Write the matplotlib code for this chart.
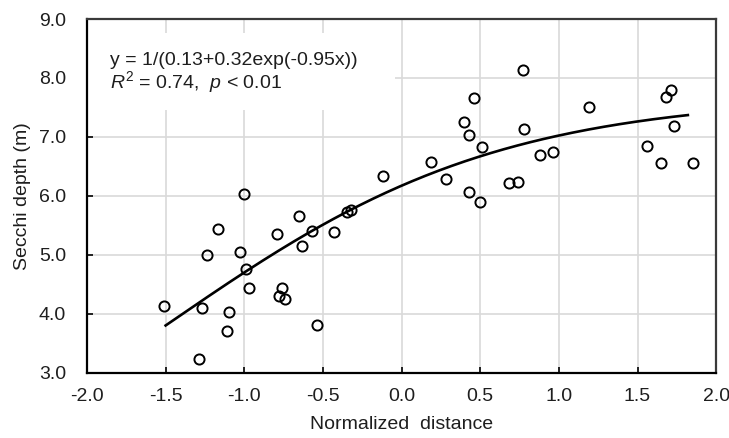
import numpy as np
import matplotlib
matplotlib.use("Agg")
import matplotlib.pyplot as plt
from matplotlib.patches import Rectangle

plt.rcParams['font.family'] = ['Liberation Sans', 'DejaVu Sans']
plt.rcParams['mathtext.fontset'] = 'custom'
plt.rcParams['mathtext.it'] = 'Liberation Sans:italic'
plt.rcParams['mathtext.rm'] = 'Liberation Sans'

# Observations: normalized distance vs. Secchi depth (m)
distance = [-1.51, -1.27, -1.29, -1.24, -1.17, -1.10, -1.11, -1.03, -0.99, -0.97,
            -0.79, -0.78, -0.76, -0.74, -0.65, -0.63, -0.57, -0.54, -0.43, -0.35,
            -0.32, -1.00, -0.12, 0.19, 0.28, 0.40, 0.43, 0.46, 0.51, 0.43,
            0.50, 0.68, 0.74, 0.77, 0.78, 0.88, 0.96, 1.19, 1.56, 1.65,
            1.68, 1.71, 1.73, 1.85]
secchi = [4.13, 4.10, 3.23, 5.00, 5.43, 4.03, 3.71, 5.04, 4.76, 4.43,
          5.36, 4.31, 4.43, 4.25, 5.66, 5.15, 5.41, 3.81, 5.38, 5.73,
          5.76, 6.03, 6.34, 6.57, 6.29, 7.25, 7.03, 7.66, 6.83, 6.06,
          5.90, 6.21, 6.23, 8.13, 7.13, 6.70, 6.74, 7.51, 6.85, 6.55,
          7.68, 7.79, 7.18, 6.55]

# Fitted logistic-type curve y = 1/(a + b*exp(-k*x))
fit_a, fit_b, fit_k = 0.13, 0.032, 0.95
fit_range = (-1.5, 1.82)

x_ticks = [-2.0, -1.5, -1.0, -0.5, 0.0, 0.5, 1.0, 1.5, 2.0]
y_ticks = [3.0, 4.0, 5.0, 6.0, 7.0, 8.0, 9.0]

FS = 14
TXT = '#1e1e1e'

fig = plt.figure(figsize=(7.29, 4.38), dpi=100)
ax = fig.add_axes([0.1193, 0.149, 0.8631, 0.8076])

ax.set_xlim(-2.0, 2.0)
ax.set_ylim(3.0, 9.0)
ax.set_xticks(x_ticks)
ax.set_yticks(y_ticks)
ax.set_xticklabels([f"{v:.1f}" for v in x_ticks])
ax.set_yticklabels([f"{v:.1f}" for v in y_ticks])

ax.grid(True, color='#d9d9d9', linewidth=1.2, zorder=0)
ax.set_axisbelow(True)

for side in ('left', 'bottom'):
    ax.spines[side].set_color('black')
    ax.spines[side].set_linewidth(1.6)
for side in ('top', 'right'):
    ax.spines[side].set_color('#3a3a3a')
    ax.spines[side].set_linewidth(1.6)

ax.tick_params(axis='x', direction='in', length=4.5, width=1.2, pad=11,
               labelsize=FS, colors='black', labelcolor=TXT)
ax.tick_params(axis='y', direction='in', length=4.5, width=1.2, pad=15,
               labelsize=FS, colors='black', labelcolor=TXT)

# White panel behind the equation text
ax.add_patch(Rectangle((0.0, 0.743), 0.49, 0.217, transform=ax.transAxes,
                       facecolor='white', edgecolor='none', zorder=1))

xs = np.linspace(fit_range[0], fit_range[1], 200)
ys = 1.0 / (fit_a + fit_b * np.exp(-fit_k * xs))
ax.plot(xs, ys, color='black', linewidth=1.9, zorder=3)

ax.plot(distance, secchi, linestyle='none', marker='o', markersize=7.3,
        markerfacecolor='none', markeredgecolor='black', markeredgewidth=1.4,
        zorder=4)

ax.text(-1.855, 8.22, "y = 1/(0.13+0.32exp(-0.95x))", fontsize=FS,
        color=TXT, va='baseline', ha='left', zorder=5)
ax.text(-1.855, 7.83, r"$R^{\mathrm{2}}$ = 0.74,  $p$ < 0.01", fontsize=FS,
        color=TXT, va='baseline', ha='left', zorder=5)

ax.set_xlabel("Normalized  distance", fontsize=FS, color=TXT, labelpad=8)
ax.set_ylabel("Secchi depth (m)", fontsize=FS, color=TXT, labelpad=6)

fig.savefig("out.png", dpi=100)
